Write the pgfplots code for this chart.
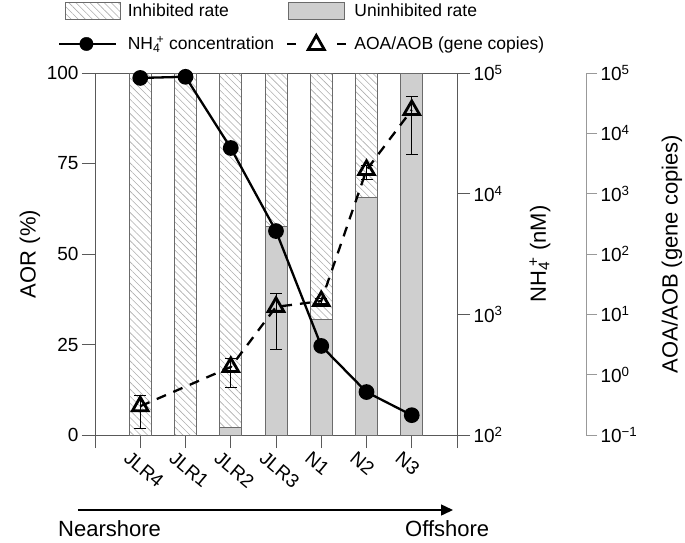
\documentclass[border=0pt]{standalone}
\usepackage{pgfplots}
\pgfplotsset{compat=1.18}
\usepackage{fontspec}
\setmainfont{Liberation Sans}
\usetikzlibrary{patterns,patterns.meta,arrows.meta}
\newcommand{\fs}{\fontsize{17.5}{21}\selectfont}
\newcommand{\ft}{\fontsize{19}{22}\selectfont}
\newcommand{\fl}{\fontsize{22}{26}\selectfont}
\newcommand{\nhf}{NH\textsubscript{4}\kern-.22em\textsuperscript{+}}
\colorlet{axgray}{black!65}
\colorlet{bargray}{black!19}
\colorlet{baredge}{black!58}
\colorlet{hatchgray}{black!32}

\begin{document}
\begin{tikzpicture}
% ---------- main axis: AOR (%) stacked bars ----------
\begin{axis}[
  width=362pt, height=362pt, scale only axis,
  xmin=0, xmax=8, ymin=0, ymax=100, enlargelimits=false,
  ybar stacked, bar width=22pt,
  xtick={0,...,8},
  xticklabels={,JLR4,JLR1,JLR2,JLR3,N1,N2,N3,},
  ytick={0,25,50,75,100},
  xtick pos=bottom, ytick pos=left,
  tick align=outside, major tick length=13pt,
  axis line style={axgray, line width=0.9pt},
  every tick/.style={axgray, line width=0.9pt},
  /pgf/number format/assume math mode=true,
  tick label style={font=\ft, black},
  xticklabel style={rotate=-40, anchor=north west, xshift=-9pt, yshift=-4pt},
  ylabel={AOR (\%)},
  ylabel style={font=\fl, at={(axis description cs:-0.18,0.5)}, anchor=center},
  legend columns=2, legend cell align=left,
  legend style={draw=none, fill=none, font=\fs, inner sep=0pt,
    at={(axis description cs:-0.102,1.197)}, anchor=north west,
    row sep=14pt,
    /tikz/every odd column/.append style={column sep=5pt},
    /tikz/every even column/.append style={column sep=10pt}},
  clip=false,
]
\addplot[fill=bargray, draw=baredge, line width=0.8pt, forget plot]
  coordinates {(1,0) (2,0) (3,2.2) (4,57.7) (5,31.8) (6,65.5) (7,100)};
\addplot[pattern={Lines[angle=-45,distance=5pt,line width=0.6pt]}, pattern color=hatchgray,
  draw=baredge, line width=0.8pt, forget plot]
  coordinates {(1,100) (2,100) (3,97.8) (4,42.3) (5,68.2) (6,34.5) (7,0)};
\addlegendimage{legend image code/.code={\draw[draw=baredge, line width=0.8pt,
  pattern={Lines[angle=-45,distance=5pt,line width=0.6pt]}, pattern color=hatchgray]
  (6pt,-8.5pt) rectangle (61pt,8.5pt);}}
\addlegendentry{Inhibited rate}
\addlegendimage{legend image code/.code={\draw[draw=baredge, line width=0.8pt, fill=bargray]
  (1pt,-8.5pt) rectangle (57pt,8.5pt);}}
\addlegendentry{Uninhibited rate}
\addlegendimage{legend image code/.code={\draw[black, line width=2.3pt] (0pt,0pt) -- (57pt,0pt);
  \fill[black] (27pt,0pt) circle (6.7pt);}}
\addlegendentry{\nhf{} concentration}
\addlegendimage{legend image code/.code={\draw[black, line width=2.3pt] (0pt,0pt) -- (9pt,0pt) (50pt,0pt) -- (59pt,0pt);
  \draw[black, line width=2.8pt, fill=white, line join=miter] (21pt,-5.5pt) -- (37pt,-5.5pt) -- (29pt,8.5pt) -- cycle;}}
\addlegendentry{AOA/AOB (gene copies)}
\end{axis}

% ---------- NH4+ axis (log) ----------
\begin{axis}[
  width=362pt, height=362pt, scale only axis,
  xmin=0, xmax=8, ymode=log, ymin=1e2, ymax=1e5,
  axis y line*=right, axis x line=none,
  ytick={1e2,1e3,1e4,1e5},
  yticklabels={10\textsuperscript{2},10\textsuperscript{3},10\textsuperscript{4},10\textsuperscript{5}},
  yminorticks=false,
  tick align=outside, major tick length=13pt,
  axis line style={axgray, line width=0.9pt},
  every tick/.style={axgray, line width=0.9pt},
  tick label style={font=\ft, black},
  ylabel={\nhf{} (nM)},
  ylabel style={font=\fl, at={(axis description cs:1.229,0.5)}, anchor=center},
  clip=false,
]
\addplot[black, line width=2.3pt, mark=*, mark size=6.7pt]
  coordinates {(1,91000) (2,93000) (3,23900) (4,4900) (5,547) (6,227) (7,146)};
\end{axis}

% ---------- AOA/AOB data (log) ----------
\begin{axis}[
  width=362pt, height=362pt, scale only axis,
  xmin=0, xmax=8, ymode=log, ymin=1e-1, ymax=1e5,
  hide axis, clip=false,
]
\addplot[black, line width=2.3pt, dash pattern=on 10pt off 8pt,
  mark=triangle, mark size=9pt,
  mark options={solid, fill=white, line width=2.8pt, line join=miter},
  error bars/.cd, y dir=both, y explicit,
  error bar style={solid, line width=0.9pt, black},
  error mark options={rotate=90, mark size=6pt, line width=0.9pt, solid, black}]
  table[x=x, y=y, y error plus=ep, y error minus=em] {
x y ep em
1 0.30 0.16 0.17
3 1.34 0.55 0.72
4 13.3 9.3 10.7
5 16.6 1.5 1.5
6 2470 520 780
7 24400 17200 19850
};
\end{axis}

% ---------- AOA/AOB axis (offset) ----------
\begin{axis}[
  at={(129pt,0pt)},
  width=362pt, height=362pt, scale only axis,
  xmin=0, xmax=1, ymode=log, ymin=1e-1, ymax=1e5,
  axis y line*=right, axis x line=none,
  ytick={1e-1,1e0,1e1,1e2,1e3,1e4,1e5},
  yticklabels={10\textsuperscript{−1},10\textsuperscript{0},10\textsuperscript{1},10\textsuperscript{2},10\textsuperscript{3},10\textsuperscript{4},10\textsuperscript{5}},
  yminorticks=false,
  tick align=outside, major tick length=11pt,
  axis line style={black!40, line width=0.9pt},
  every tick/.style={black!40, line width=0.9pt},
  tick label style={font=\ft, black},
  ylabel={AOA/AOB (gene copies)},
  ylabel style={font=\fl, at={(axis description cs:1.2376,0.5)}, anchor=center},
]
\addplot[draw=none] coordinates {(0,1)};
\end{axis}

% ---------- bottom annotation ----------
\draw[black, line width=1.5pt, -{Triangle[length=12pt,width=11pt]}] (-17pt,-75pt) -- (358pt,-75pt);
\node[anchor=base west, font=\fl, inner sep=0pt] at (-37pt,-101pt) {Nearshore};
\node[anchor=base west, font=\fl, inner sep=0pt] at (310pt,-101pt) {Offshore};

\pgfresetboundingbox
\path (-95pt,-107pt) rectangle (590pt,435pt);
\end{tikzpicture}
\end{document}
